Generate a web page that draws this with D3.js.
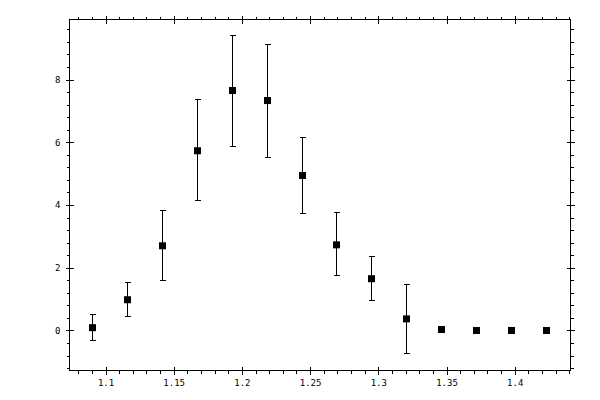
<!DOCTYPE html>
<html>
<head>
<meta charset="utf-8">
<script src="https://cdn.jsdelivr.net/npm/d3@7"></script>
<style>
  body { margin: 0; background: #fff; }
  text { font-family: "DejaVu Sans Mono", monospace; font-size: 9px; fill: #000; }
</style>
</head>
<body>
<svg id="chart" width="600" height="400"></svg>
<script>
// data
var xVals  = [1.0905, 1.1161, 1.1418, 1.1675, 1.1932, 1.2188, 1.2445, 1.2694, 1.2951, 1.3208, 1.3465, 1.3721, 1.3974, 1.4235];
var yVals  = [0.09, 0.98, 2.70, 5.73, 7.65, 7.33, 4.94, 2.73, 1.65, 0.37, 0.03, 0.0, 0.0, 0.0];
var yHigh  = [0.50, 1.53, 3.82, 7.36, 9.40, 9.12, 6.15, 3.76, 2.35, 1.46, 0.07, 0.0, 0.0, 0.0];
var yLow   = [-0.32, 0.44, 1.60, 4.14, 5.86, 5.51, 3.72, 1.75, 0.95, -0.74, 0.0, 0.0, 0.0, 0.0];
var xMajor = [1.1, 1.15, 1.2, 1.25, 1.3, 1.35, 1.4];
var yMajor = [0, 2, 4, 6, 8];

var svg = d3.select("#chart");
var L = 69, T = 19, R = 570, B = 370;

var x = d3.scaleLinear().domain([1.0736, 1.4409]).range([L, R]);
var y = d3.scaleLinear().domain([-1.276, 9.914]).range([B, T]);

var xMinor = d3.range(108, 145).map(function (d) { return d / 100; })
  .filter(function (d) { return d >= x.domain()[0] && d <= x.domain()[1]; });
var yMinor = d3.range(-3, 25).map(function (d) { return d * 0.4; })
  .filter(function (d) { return d >= y.domain()[0] && d <= y.domain()[1]; });

var g = svg.append("g").attr("transform", "translate(0.5,0.5)");

function addAxis(gen, pos, vals, size, labels) {
  var a = gen.tickValues(vals).tickSizeInner(size).tickSizeOuter(0).tickPadding(5);
  if (!labels) a.tickFormat("");
  else a.tickFormat(d3.format("~g"));
  var s = g.append("g").attr("transform", pos).call(a);
  s.select(".domain").remove();
  s.selectAll("line").attr("stroke", "#000").attr("shape-rendering", "crispEdges");
  s.selectAll("text").attr("font-family", "DejaVu Sans Mono").attr("font-size", 9);
  return s;
}

// bottom
addAxis(d3.axisBottom(x), "translate(0," + B + ")", xMinor, 3, false);
addAxis(d3.axisBottom(x), "translate(0," + B + ")", xMajor, 4, true);
addAxis(d3.axisBottom(x), "translate(0," + B + ")", xMajor, -4, false);
// top
addAxis(d3.axisTop(x), "translate(0," + T + ")", xMinor, 3, false);
addAxis(d3.axisTop(x), "translate(0," + T + ")", xMajor, 4, false);
addAxis(d3.axisTop(x), "translate(0," + T + ")", xMajor, -4, false);
// left
addAxis(d3.axisLeft(y), "translate(" + L + ",0)", yMinor, 3, false);
addAxis(d3.axisLeft(y), "translate(" + L + ",0)", yMajor, 4, true);
addAxis(d3.axisLeft(y), "translate(" + L + ",0)", yMajor, -4, false);
// right
addAxis(d3.axisRight(y), "translate(" + R + ",0)", yMinor, 3, false);
addAxis(d3.axisRight(y), "translate(" + R + ",0)", yMajor, 4, false);
addAxis(d3.axisRight(y), "translate(" + R + ",0)", yMajor, -4, false);

// frame
g.append("rect")
  .attr("x", L).attr("y", T).attr("width", R - L).attr("height", B - T)
  .attr("fill", "none").attr("stroke", "#000").attr("shape-rendering", "crispEdges");

var pts = xVals.map(function (d, i) {
  return { x: d, y: yVals[i], hi: yHigh[i], lo: yLow[i] };
});

var eb = g.append("g").attr("stroke", "#000").attr("shape-rendering", "crispEdges");
var cap = 3;
pts.forEach(function (p) {
  if (p.hi - p.lo <= 0) return;
  var cx = Math.round(x(p.x));
  eb.append("line").attr("x1", cx).attr("x2", cx).attr("y1", y(p.hi)).attr("y2", y(p.lo));
  eb.append("line").attr("x1", cx - cap).attr("x2", cx + cap).attr("y1", y(p.hi)).attr("y2", y(p.hi));
  eb.append("line").attr("x1", cx - cap).attr("x2", cx + cap).attr("y1", y(p.lo)).attr("y2", y(p.lo));
});

var ms = 7;
g.append("g").selectAll("rect").data(pts).enter().append("rect")
  .attr("x", function (d) { return Math.round(x(d.x)) - ms / 2; })
  .attr("y", function (d) { return y(d.y) - ms / 2; })
  .attr("width", ms).attr("height", ms)
  .attr("fill", "#000");
</script>
</body>
</html>
